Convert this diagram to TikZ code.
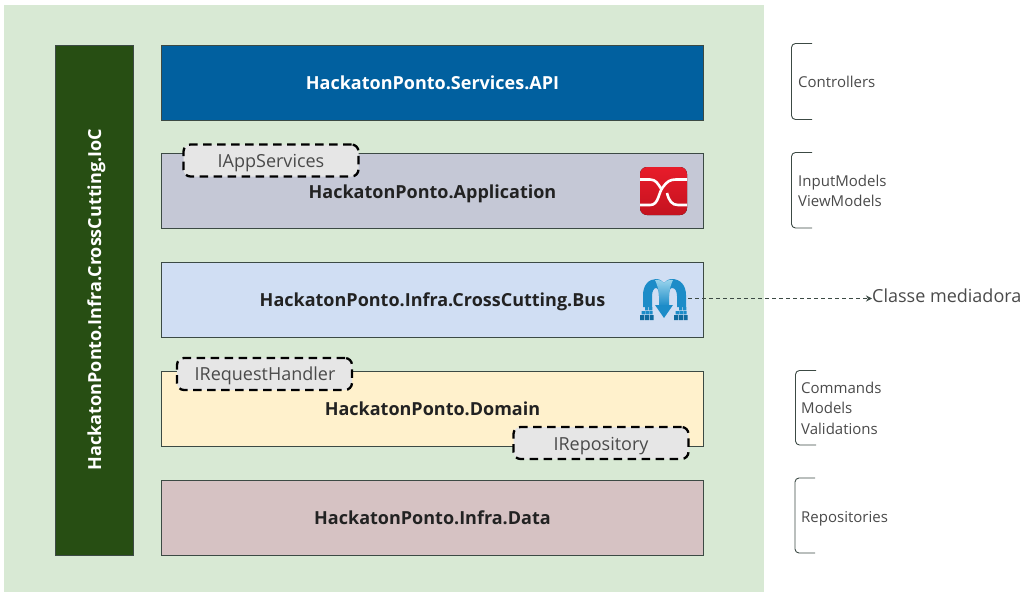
\documentclass[tikz,border=0pt]{standalone}
\usepackage{fontspec}
\setmainfont{Open Sans}
\usetikzlibrary{arrows.meta,calc}
\definecolor{bgGreen}{HTML}{D8E9D4}
\definecolor{iocGreen}{HTML}{274E13}
\definecolor{apiBlue}{HTML}{01609F}
\definecolor{appGrey}{HTML}{C5C8D6}
\definecolor{busBlue}{HTML}{D0DEF3}
\definecolor{domYellow}{HTML}{FFF1CC}
\definecolor{dataRose}{HTML}{D6C2C3}
\definecolor{tagGrey}{HTML}{E6E6E6}
\definecolor{edgeGrey}{HTML}{3C4A44}
\definecolor{txtGrey}{HTML}{4A4A4A}
\definecolor{txtDark}{HTML}{222222}
\definecolor{iconRed}{HTML}{E81C2A}
\definecolor{iconRedDark}{HTML}{C4121F}
\definecolor{iconBlue}{HTML}{1C8CC8}
\definecolor{iconLight}{HTML}{9AD4EC}
\definecolor{iconDark}{HTML}{0F6A9E}
\tikzset{
  layerbox/.style={draw=edgeGrey,line width=0.8pt,anchor=north west,inner sep=0pt,outer sep=0pt,minimum width=542pt,minimum height=75pt},
  layertext/.style={anchor=base,inner sep=0pt,font=\fontsize{18}{20}\selectfont\bfseries,text=txtDark},
  tagbox/.style={draw=black,fill=tagGrey,line width=2.3pt,dash pattern=on 8.5pt off 5.5pt,rounded corners=7pt,anchor=north west,inner sep=0pt,outer sep=0pt,minimum width=175pt,minimum height=32pt},
  tagtext/.style={anchor=base,inner sep=0pt,font=\fontsize{18}{20}\selectfont,text=txtGrey},
  sidelabel/.style={anchor=base west,inner sep=0pt,font=\fontsize{15}{20}\selectfont,text=txtGrey},
  bracketline/.style={draw=edgeGrey,line width=0.9pt,rounded corners=4pt},
  leader/.style={draw=edgeGrey,line width=0.8pt,dash pattern=on 4pt off 3pt,-{Stealth[length=6pt,width=6pt]}},
}
\begin{document}
\begin{tikzpicture}[x=1pt,y=-1pt]
\useasboundingbox (0,0) rectangle (1031,595);
\fill[bgGreen] (4,5) rectangle (764,592);
\node[draw=edgeGrey,line width=0.6pt,fill=iocGreen,anchor=north west,inner sep=0pt,outer sep=0pt,minimum width=78pt,minimum height=510pt] (ioc) at (55,45) {};
\node[rotate=90,text=white,anchor=base,font=\fontsize{18}{20}\selectfont\bfseries,inner sep=0pt] (ioct) at (101,299.5) {HackatonPonto.Infra.CrossCutting.IoC};
\node[layerbox,fill=apiBlue] (api) at (161.5,45) {};
\node[layertext,text=white] (apit) at (432.5,89) {HackatonPonto.Services.API};
\node[layerbox,fill=appGrey] (app) at (161.5,153.5) {};
\node[layertext] (appt) at (432.5,198) {HackatonPonto.Application};
\node[layerbox,fill=busBlue] (bus) at (161.5,262) {};
\node[layertext] (bust) at (432.5,306) {HackatonPonto.Infra.CrossCutting.Bus};
\node[layerbox,fill=domYellow] (dom) at (161.5,371) {};
\node[layertext] (domt) at (432.5,415) {HackatonPonto.Domain};
\node[layerbox,fill=dataRose] (data) at (161.5,480) {};
\node[layertext] (datat) at (432.5,524) {HackatonPonto.Infra.Data};
\node[tagbox] (tapp) at (183.5,144.5) {};
\node[tagtext] (tappt) at (271,167) {IAppServices};
\node[tagbox] (treq) at (177,358) {};
\node[tagtext] (treqt) at (265,380.5) {IRequestHandler};
\node[tagbox] (trepo) at (513.5,427) {};
\node[tagtext] (trepot) at (601,450) {IRepository};
% red icon
\begin{scope}
\fill[top color=iconRed,bottom color=iconRedDark,rounded corners=7pt] (640,167) rectangle (687,215);
\draw[white,line width=2.6pt] (640,179.5) -- (650,179.5) .. controls (656,179.5) and (658,184) .. (661,188.5);
\draw[white,line width=2.6pt] (640,205) -- (650,205) .. controls (659,205) and (658,193) .. (663,187) .. controls (667,181.5) and (670,179.5) .. (676,179.5) -- (687,179.5);
\draw[white,line width=2.6pt] (667,193) .. controls (669,201) and (672,205) .. (678,205) -- (687,205);
\end{scope}
% blue mediator icon
\begin{scope}
\fill[iconBlue] (643,307) -- (643,295) .. controls (643,285) and (649,279) .. (656,279) .. controls (660,279) and (662,281) .. (664,283) .. controls (666,281) and (668,279) .. (672,279) .. controls (680,279) and (686,285) .. (686,295) -- (686,307) -- (677,307) -- (677,296) .. controls (677,291) and (675,288) .. (672,288) .. controls (670,288) and (669,291) .. (669,296) -- (659,296) .. controls (659,291) and (658,288) .. (656,288) .. controls (654,288) and (652,291) .. (652,296) -- (652,307) -- cycle;
\shade[top color=iconLight,bottom color=iconBlue] (659,306) -- (659,296) .. controls (659,289) and (656,282) .. (655,280) .. controls (660,279.5) and (662,281) .. (664,283) .. controls (666,281) and (668,279.5) .. (673,280) .. controls (672,282) and (669,289) .. (669,296) -- (669,306) -- cycle;
\fill[iconBlue] (655,305) -- (673,305) -- (664,318) -- cycle;
\foreach \bx in {640,674}{
  \fill[iconDark] (\bx,315) rectangle +(4,5) (\bx+4.8,315) rectangle +(4,5) (\bx+9.6,315) rectangle +(4,5);
  \fill[iconBlue] (\bx+1.5,311) rectangle +(3.4,3.4) (\bx+5.4,311) rectangle +(3.4,3.4) (\bx+9.3,311) rectangle +(3.4,3.4);
  \fill[iconBlue] (\bx+5,307) rectangle +(3.4,3.4) (\bx+9,307) rectangle +(3.4,3.4);
}
\end{scope}
\coordinate (iconM) at (688,298.5);
\node[anchor=west,inner sep=0pt,font=\fontsize{18}{20}\selectfont,text=txtGrey] (classe) at (872,298.5) {\strut Classe mediadora};
\draw[leader] (iconM) -- (classe.west);
% brackets
\coordinate (b1a) at (812,43.5); \coordinate (b1b) at (812,119.5);
\draw[bracketline] (b1a) -- (791.5,43.5) -- (791.5,119.5) -- (b1b);
\coordinate (b2a) at (812,152.5); \coordinate (b2b) at (812,228);
\draw[bracketline] (b2a) -- (791.5,152.5) -- (791.5,228) -- (b2b);
\coordinate (b3a) at (816,370.5); \coordinate (b3b) at (816,445);
\draw[bracketline] (b3a) -- (795.5,370.5) -- (795.5,445) -- (b3b);
\coordinate (b4a) at (815,478); \coordinate (b4b) at (815,553);
\draw[bracketline] (b4a) -- (795,478) -- (795,553) -- (b4b);
\node[sidelabel] (l1) at (798,87) {Controllers};
\node[sidelabel] (l2a) at (798,186) {InputModels};
\node[sidelabel] (l2b) at (798,206) {ViewModels};
\node[sidelabel] (l3a) at (801,393) {Commands};
\node[sidelabel] (l3b) at (801,413) {Models};
\node[sidelabel] (l3c) at (801,434) {Validations};
\node[sidelabel] (l4) at (801,522) {Repositories};
\end{tikzpicture}
\end{document}
